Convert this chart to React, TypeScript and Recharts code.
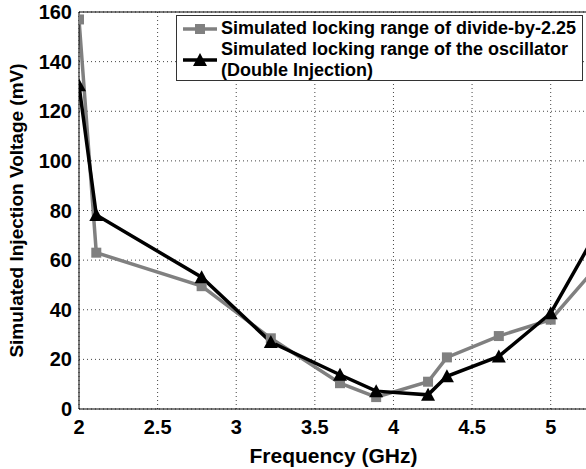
import React from "react";
import {
  LineChart,
  Line,
  XAxis,
  YAxis,
  CartesianGrid,
  ReferenceLine,
  Label,
} from "recharts";

const freqs = [2.0, 2.11, 2.78, 3.22, 3.66, 3.89, 4.22, 4.34, 4.67, 5.0, 5.33];
const divideValues = [157, 63, 49.5, 28.5, 10.4, 4.8, 11, 20.8, 29.4, 36, 60];
const oscillatorValues = [130.5, 78.2, 53.1, 27, 13.8, 7.2, 5.7, 13.2, 21.2, 38.6, 75.5];
const xTicks = [2, 2.5, 3, 3.5, 4, 4.5, 5];
const yTicks = [0, 20, 40, 60, 80, 100, 120, 140, 160];
const seriesNames = [
  "Simulated locking range of divide-by-2.25",
  "Simulated locking range of the oscillator",
  "(Double Injection)",
];

const data = freqs.map((f, i) => ({
  x: f,
  divide: divideValues[i],
  osc: oscillatorValues[i],
}));

const FONT = "'Liberation Sans', Arial, Helvetica, sans-serif";
const GRAY = "#808080";

const SquareDot = (props: any) => {
  const { cx, cy } = props;
  if (cx == null || cy == null) return null;
  return <rect x={cx - 5} y={cy - 5} width={10} height={10} fill={GRAY} stroke="none" />;
};

const TriangleDot = (props: any) => {
  const { cx, cy } = props;
  if (cx == null || cy == null) return null;
  return (
    <polygon
      points={`${cx},${cy - 7} ${cx - 7},${cy + 6} ${cx + 7},${cy + 6}`}
      fill="#000"
      stroke="none"
    />
  );
};

const LegendBox = () => (
  <div
    style={{
      position: "absolute",
      left: 176,
      top: 15,
      width: 405,
      height: 64,
      border: "1.5px solid #333",
      background: "#fff",
      fontFamily: FONT,
      fontWeight: "bold",
      fontSize: 18,
      color: "#000",
    }}
  >
    <svg width={44} height={64} style={{ position: "absolute", left: 4, top: 0 }}>
      <line x1={2} y1={13} x2={36} y2={13} stroke={GRAY} strokeWidth={3.5} />
      <rect x={14} y={8} width={10} height={10} fill={GRAY} />
      <line x1={2} y1={44} x2={36} y2={44} stroke="#000" strokeWidth={3.5} />
      <polygon points="19,37 12,50 26,50" fill="#000" />
    </svg>
    <div style={{ position: "absolute", left: 44, top: 2, lineHeight: "21px", whiteSpace: "nowrap" }}>
      <div>{seriesNames[0]}</div>
      <div>{seriesNames[1]}</div>
      <div>{seriesNames[2]}</div>
    </div>
  </div>
);

export default function App() {
  return (
    <div
      style={{
        position: "absolute",
        left: 0,
        top: 0,
        width: 586,
        height: 469,
        overflow: "hidden",
        background: "#fff",
        fontFamily: FONT,
      }}
    >
      <LineChart
        width={592}
        height={469}
        data={data}
        margin={{ top: 12, right: 2, bottom: 0, left: 0 }}
      >
        <CartesianGrid stroke="#444" strokeDasharray="1 3" strokeWidth={1} />
        <XAxis
          dataKey="x"
          type="number"
          domain={[2, 5.25]}
          ticks={xTicks}
          allowDataOverflow
          height={60}
          tickLine={false}
          tickSize={0}
          tickMargin={11}
          axisLine={{ stroke: "#000", strokeWidth: 1 }}
          tick={{ fontSize: 20, fontWeight: "bold", fill: "#000", fontFamily: FONT }}
        >
          <Label
            content={(p: any) => {
              const vb = p.viewBox || {};
              return (
                <text
                  x={vb.x + vb.width / 2 - 1}
                  y={vb.y + 46}
                  textAnchor="middle"
                  dominantBaseline="central"
                  fontSize={21}
                  fontWeight="bold"
                  fontFamily={FONT}
                  fill="#000"
                >
                  Frequency (GHz)
                </text>
              );
            }}
          />
        </XAxis>
        <YAxis
          type="number"
          domain={[0, 160]}
          ticks={yTicks}
          width={79}
          tickLine={false}
          tickSize={0}
          tickMargin={7}
          axisLine={{ stroke: "#000", strokeWidth: 1 }}
          tick={{ fontSize: 20, fontWeight: "bold", fill: "#000", fontFamily: FONT }}
        >
          <Label
            content={(p: any) => {
              const vb = p.viewBox || {};
              const cx = 16;
              const cy = vb.y + vb.height / 2;
              return (
                <text
                  x={cx}
                  y={cy}
                  transform={`rotate(-90 ${cx} ${cy})`}
                  textAnchor="middle"
                  dominantBaseline="central"
                  fontSize={19}
                  fontWeight="bold"
                  fontFamily={FONT}
                  fill="#000"
                >
                  Simulated Injection Voltage (mV)
                </text>
              );
            }}
          />
        </YAxis>
        <ReferenceLine y={160} stroke="#000" strokeWidth={1} />
        <Line
          dataKey="divide"
          name={seriesNames[0]}
          stroke={GRAY}
          strokeWidth={3.5}
          dot={<SquareDot />}
          activeDot={false}
          isAnimationActive={false}
          strokeLinejoin="miter"
        />
        <Line
          dataKey="osc"
          name={seriesNames[1]}
          stroke="#000"
          strokeWidth={3.5}
          dot={<TriangleDot />}
          activeDot={false}
          isAnimationActive={false}
          strokeLinejoin="miter"
        />
      </LineChart>
      <LegendBox />
    </div>
  );
}
